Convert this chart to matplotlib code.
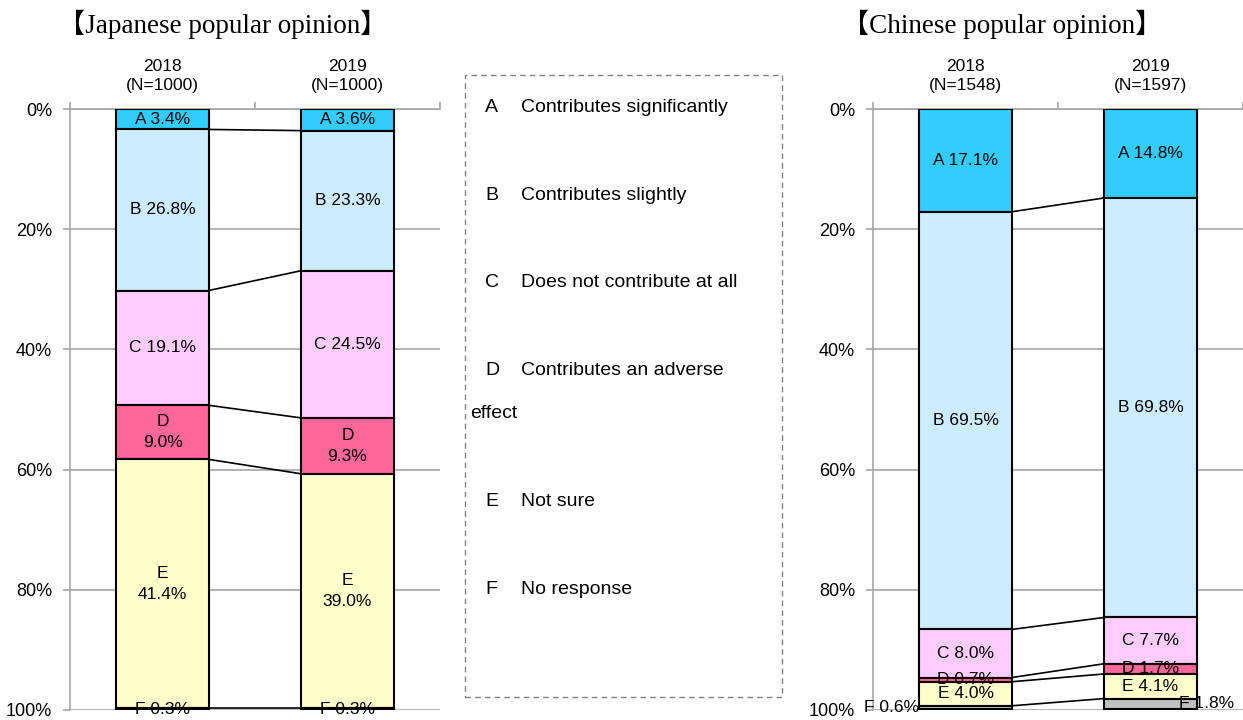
import matplotlib.pyplot as plt
from matplotlib.patches import Rectangle

plt.rcParams["font.family"] = ["Liberation Sans", "DejaVu Sans"]

# answer codes, top to bottom in each stacked bar
codes = ["A", "B", "C", "D", "E", "F"]
colors = ["#33CCFF", "#CCECFF", "#FFCCFF", "#FF6699", "#FFFFCC", "#C0C0C0"]
legend_texts = [
    "Contributes significantly",
    "Contributes slightly",
    "Does not contribute at all",
    "Contributes an adverse",
    "Not sure",
    "No response",
]

years = ["2018", "2019"]
japan_n = [1000, 1000]
china_n = [1548, 1597]

# percentages for A..F
japan_2018 = [3.4, 26.8, 19.1, 9.0, 41.4, 0.3]
japan_2019 = [3.6, 23.3, 24.5, 9.3, 39.0, 0.3]
china_2018 = [17.1, 69.5, 8.0, 0.7, 4.0, 0.6]
china_2019 = [14.8, 69.8, 7.7, 1.7, 4.1, 1.8]

W, H = 1243, 720
fig = plt.figure(figsize=(W / 100, H / 100), dpi=100)


def px(x0, y0, x1, y1):
    return [x0 / W, 1 - y1 / H, (x1 - x0) / W, (y1 - y0) / H]


def draw_panel(ax, series, ns, two_line, outside=None):
    width = 0.5
    xs = [0.5, 1.5]
    ax.set_xlim(0, 2)
    ax.set_ylim(100, 0)
    tops = []
    for x, vals in zip(xs, series):
        bottom = 0
        edges = []
        for i, v in enumerate(vals):
            ax.bar(x, v, width, bottom=bottom, color=colors[i],
                   edgecolor="black", linewidth=1.5, zorder=3)
            mid = bottom + v / 2
            if outside and (x, codes[i]) in outside:
                lx, ha = outside[(x, codes[i])]
                ax.text(lx, mid, f"{codes[i]} {v:.1f}%", ha=ha, va="center",
                        fontsize=12.5, zorder=5)
            else:
                sep = "\n" if codes[i] in two_line else " "
                ax.text(x, mid, f"{codes[i]}{sep}{v:.1f}%", ha="center",
                        va="center", fontsize=12.5, zorder=5, linespacing=1.5)
            bottom += v
            edges.append(bottom)
        tops.append(edges)

    # connector lines between the two bars
    for a, b in zip(tops[0][:-1], tops[1][:-1]):
        ax.plot([xs[0] + width / 2, xs[1] - width / 2], [a, b],
                color="black", linewidth=1.2, zorder=4)

    ax.set_yticks(range(0, 101, 20))
    ax.set_yticklabels([f"{t}%" for t in range(0, 101, 20)], fontsize=13)
    ax.yaxis.grid(True, color="#A6A6A6", linewidth=1.2, zorder=0)
    ax.set_xticks([0, 1, 2])
    ax.set_xticklabels([])
    ax.xaxis.tick_top()
    ax.tick_params(axis="x", length=5, color="#A6A6A6", width=1.2)
    ax.tick_params(axis="y", length=5, color="#A6A6A6", width=1.2, pad=8)
    for s in ["right", "bottom"]:
        ax.spines[s].set_visible(False)
    for s in ["left", "top"]:
        ax.spines[s].set_color("#A6A6A6")
        ax.spines[s].set_linewidth(1.2)
    ax.spines["left"].set_zorder(1)

    for x, yr, n in zip(xs, years, ns):
        ax.text(x, 1.026, f"{yr}\n(N={n})", transform=ax.get_xaxis_transform(),
                ha="center", va="bottom", fontsize=12.5, linespacing=1.4)


ax_jp = fig.add_axes(px(70, 109, 440, 710))
draw_panel(ax_jp, [japan_2018, japan_2019], japan_n, two_line=("D", "E"))

ax_cn = fig.add_axes(px(873, 109, 1243, 710))
draw_panel(ax_cn, [china_2018, china_2019], china_n, two_line=(),
           outside={(0.5, "F"): (0.25, "right"), (1.5, "F"): (1.805, "center")})

fig.text(58 / W, 1 - 24 / H, "【Japanese popular opinion】", ha="left", va="center",
         fontsize=19.5, family=["Liberation Serif", "Noto Sans CJK JP"])
fig.text(842 / W, 1 - 24 / H, "【Chinese popular opinion】", ha="left", va="center",
         fontsize=19.5, family=["Liberation Serif", "Noto Sans CJK JP"])

# legend box with code descriptions
fig.patches.append(Rectangle((465 / W, 1 - 697 / H), (782 - 465) / W, (697 - 75) / H,
                             transform=fig.transFigure, fill=False,
                             edgecolor="#808080", linestyle=(0, (4, 3)), linewidth=1))
legend_y = [108, 196, 283, 371, 502, 589]
for code, text, y in zip(codes, legend_texts, legend_y):
    fig.text(485 / W, 1 - y / H, code, ha="left", va="center", fontsize=14)
    fig.text(521 / W, 1 - y / H, text, ha="left", va="center", fontsize=14)
fig.text(470 / W, 1 - 413 / H, "effect", ha="left", va="center", fontsize=14)

fig.savefig("out.png", dpi=100)
